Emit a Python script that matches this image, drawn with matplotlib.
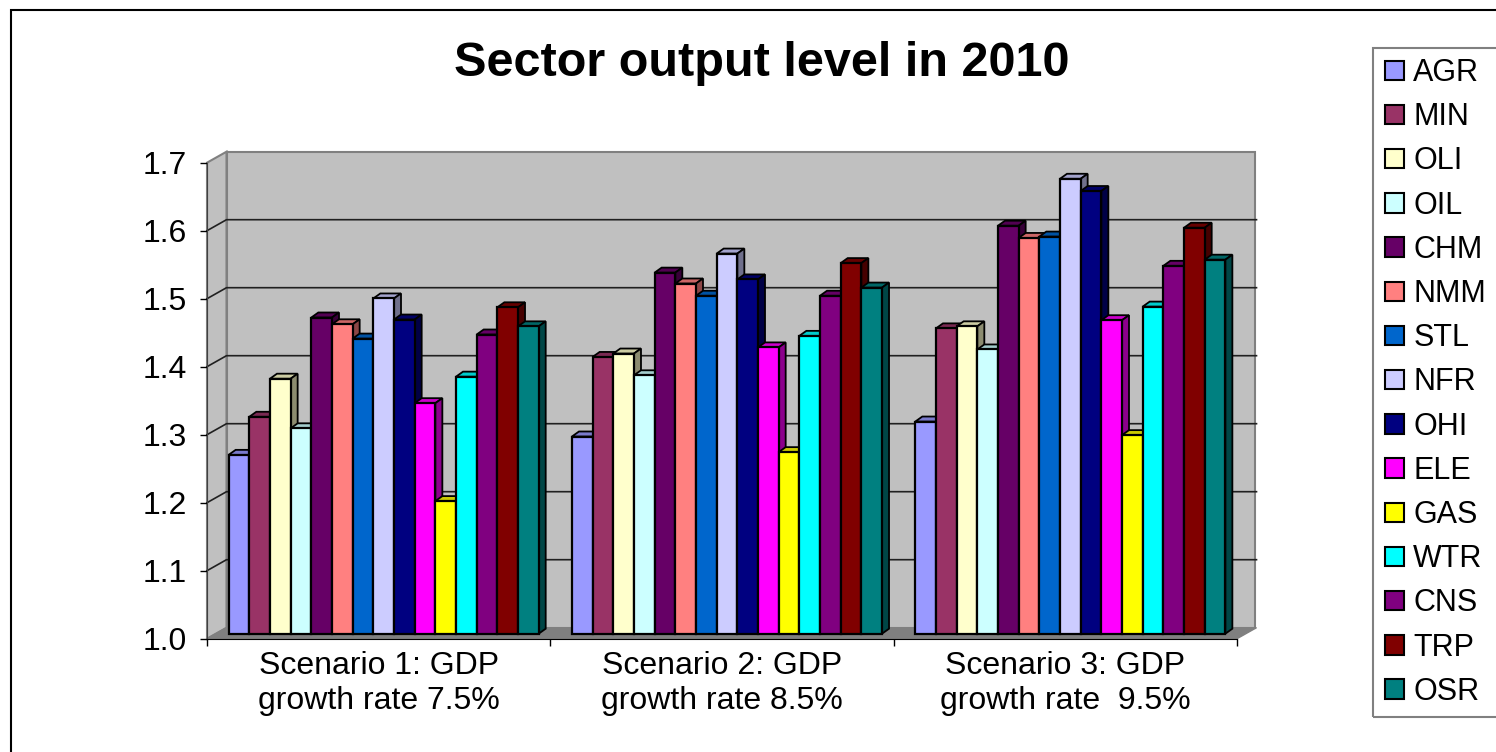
import numpy as np
import matplotlib
matplotlib.use('Agg')
import matplotlib.pyplot as plt
from matplotlib.patches import Polygon, Rectangle, Patch
from matplotlib.colors import to_rgb

sectors = ['AGR', 'MIN', 'OLI', 'OIL', 'CHM', 'NMM', 'STL', 'NFR',
           'OHI', 'ELE', 'GAS', 'WTR', 'CNS', 'TRP', 'OSR']
colors = ['#9999FF', '#993366', '#FFFFCC', '#CCFFFF', '#660066', '#FF8080',
          '#0066CC', '#CCCCFF', '#000080', '#FF00FF', '#FFFF00', '#00FFFF',
          '#800080', '#800000', '#008080']
scenarios = ['Scenario 1: GDP\ngrowth rate 7.5%',
             'Scenario 2: GDP\ngrowth rate 8.5%',
             'Scenario 3: GDP\ngrowth rate  9.5%']
s1 = [1.263, 1.319, 1.375, 1.302, 1.465, 1.455, 1.434, 1.493,
      1.462, 1.339, 1.195, 1.378, 1.440, 1.480, 1.452]
s2 = [1.290, 1.407, 1.412, 1.380, 1.531, 1.515, 1.497, 1.559,
      1.521, 1.421, 1.267, 1.438, 1.497, 1.545, 1.509]
s3 = [1.312, 1.449, 1.452, 1.418, 1.600, 1.582, 1.584, 1.669,
      1.651, 1.461, 1.292, 1.481, 1.541, 1.597, 1.550]
yticks = [1.0, 1.1, 1.2, 1.3, 1.4, 1.5, 1.6, 1.7]

plt.rcParams['font.family'] = ['Liberation Sans', 'DejaVu Sans']

W, H = 1496, 752
fig = plt.figure(figsize=(W / 100, H / 100), dpi=100)

# outer chart border
fig.add_artist(Rectangle((11 / W, -0.1), 2, 1.1 - 10 / H, transform=fig.transFigure,
                         fill=False, ec='black', lw=1.5))

ax = fig.add_axes([207 / W, 1 - 638.7 / H, 1030 / W, 476 / H])
ax.set_xlim(0, 3)
ax.set_ylim(1.0, 1.7)
ax.patch.set_visible(False)
for k in ['top', 'right']:
    ax.spines[k].set_visible(False)
ax.spines['left'].set_color('#404040')
ax.spines['bottom'].set_color('black')

px = 3 / 1030.0
py = 0.7 / 476.0
bx, by = 19.5 * px, 11 * py   # depth of the walls
y0, y1 = yticks[0], yticks[-1]

# walls and floor
ax.add_patch(Rectangle((bx, y0 + by), 3 - 1.5 * px, y1 - y0, fc='#C0C0C0', ec='#808080',
                       lw=1.5, clip_on=False, zorder=0.5))
ax.add_patch(Polygon([(0, y0), (0, y1), (bx, y1 + by), (bx, y0 + by)], fc='#C0C0C0',
                     ec='#808080', lw=1.5, clip_on=False, zorder=0.6))
ax.add_patch(Polygon([(0, y0), (3, y0), (3 + bx, y0 + by), (bx, y0 + by)], fc='#808080',
                     ec='#808080', lw=1, clip_on=False, zorder=0.7))
for t in yticks[1:-1]:
    ax.plot([0, bx, 3 + bx], [t, t + by, t + by], color='#202020', lw=1.2,
            clip_on=False, zorder=0.8)

data = np.array([s1, s2, s3])
w = 20.67 / 343.33
dxb, dyb = 5 * px, 5 * py     # bars sit a little behind the front plane
sx, sy = 7 * px, 5 * py       # bar depth
centers = np.arange(3) + 0.5

for i, name in enumerate(sectors):
    x = centers - 7 * w + i * w + dxb
    z = 2 + i * 0.1
    rgb = np.array(to_rgb(colors[i]))
    ax.bar(x, data[:, i] - y0, width=w, bottom=y0 + dyb, color=colors[i],
           edgecolor='black', lw=1.6, zorder=z + 0.05, clip_on=False)
    for xc, v in zip(x, data[:, i]):
        xl, xr = xc - w / 2, xc + w / 2
        top = v + dyb
        ax.add_patch(Polygon([(xl, top), (xr, top), (xr + sx, top + sy), (xl + sx, top + sy)],
                             fc=rgb * 0.8, ec='black', lw=1.3, clip_on=False, zorder=z))
        ax.add_patch(Polygon([(xr, y0 + dyb), (xr, top), (xr + sx, top + sy), (xr + sx, y0 + dyb + sy)],
                             fc=rgb * 0.55, ec='black', lw=1.3, clip_on=False, zorder=z))

ax.set_yticks(yticks)
ax.set_yticklabels(['%.1f' % t for t in yticks])
ax.tick_params(axis='y', length=5, width=1, pad=9.5, labelsize=23)
ax.set_xticks(centers)
ax.set_xticklabels(scenarios)
ax.set_xticks([0, 1, 2, 3], minor=True)
ax.tick_params(axis='x', which='major', length=0, pad=9, labelsize=23)
ax.tick_params(axis='x', which='minor', length=5, width=1)

fig.text(762 / W, 1 - 63 / H, 'Sector output level in 2010', ha='center', va='center',
         fontsize=35, fontweight='bold')

# legend
fig.add_artist(Rectangle((1373 / W, 1 - 717 / H), 1, (717 - 48) / H, transform=fig.transFigure,
                         fill=False, ec='#808080', lw=1.5))
handles = [Patch(fc=c, ec='black', lw=1.5) for c in colors]
fig.legend(handles, sectors, loc='upper left', bbox_to_anchor=(1385 / W, 1 - 58 / H),
           frameon=False, fontsize=22, handlelength=0.62, handleheight=0.6,
           handletextpad=0.3, labelspacing=0.465, borderpad=0, borderaxespad=0)

fig.savefig('out.png', dpi=100)
